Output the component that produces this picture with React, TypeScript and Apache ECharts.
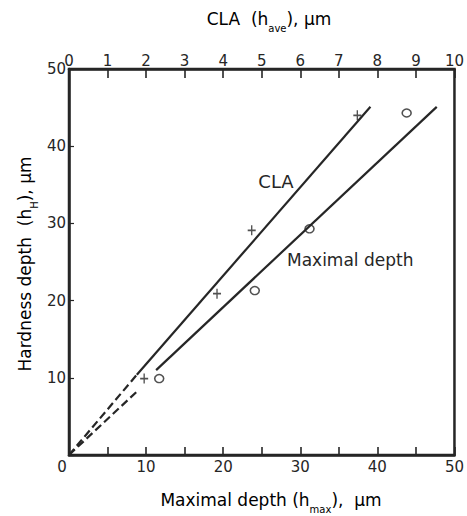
import React, { useEffect, useRef } from "react";
import * as echarts from "echarts";

// Hardness depth (μm) vs maximal depth (μm) – circles
const maxDepthPoints: [number, number][] = [
  [11.7, 9.9],
  [24.1, 21.3],
  [31.2, 29.3],
  [43.8, 44.3],
];
// Hardness depth (μm) vs CLA (μm) – crosses
const claPoints: [number, number][] = [
  [1.95, 9.9],
  [3.84, 20.9],
  [4.74, 29.1],
  [7.48, 44.0],
];
// fitted lines
const maxDepthSolid: [number, number][] = [
  [11.3, 11.0],
  [47.7, 45.1],
];
const maxDepthDashed: [number, number][] = [
  [0, 0],
  [9.0, 8.4],
];
const claSolid: [number, number][] = [
  [1.76, 10.4],
  [7.82, 45.1],
];
const claDashed: [number, number][] = [
  [0, 0],
  [1.76, 10.4],
];

const INK = "#262626";
const FONT = "DejaVu Sans";

export default function App() {
  const ref = useRef<HTMLDivElement>(null);
  useEffect(() => {
    if (!ref.current) return;
    const chart = echarts.init(ref.current, null, { renderer: "svg" });
    const sub = { fontSize: 10, fontFamily: FONT, color: INK, verticalAlign: "bottom", lineHeight: 28 };
    const main = { fontSize: 17, fontFamily: FONT, color: INK, lineHeight: 28 };
    chart.setOption({
      animation: false,
      backgroundColor: "#fff",
      textStyle: { fontFamily: FONT, color: INK },
      grid: {
        left: 69,
        right: 9,
        top: 69,
        bottom: 61,
        show: true,
        borderColor: INK,
        borderWidth: 2.5,
      },
      xAxis: [
        {
          type: "value",
          position: "bottom",
          min: 0,
          max: 50,
          interval: 5,
          splitLine: { show: false },
          axisLine: { lineStyle: { color: INK, width: 2.5 } },
          axisTick: { inside: true, length: 8, lineStyle: { color: INK, width: 1.6 } },
          axisLabel: {
            color: INK,
            fontSize: 15,
            margin: 4,
            formatter: (v: number) => (v === 0 ? "{z|0}" : v % 10 === 0 ? String(v) : ""),
            rich: { z: { fontSize: 15, color: INK, padding: [0, 14, 0, 0] } },
          },
        },
        {
          type: "value",
          position: "top",
          min: 0,
          max: 10,
          interval: 1,
          splitLine: { show: false },
          axisLine: { lineStyle: { color: INK, width: 2.5 } },
          axisTick: { inside: true, length: 9, lineStyle: { color: INK, width: 1.6 } },
          axisLabel: { color: INK, fontSize: 15, margin: 1 },
        },
      ],
      yAxis: {
        type: "value",
        min: 0,
        max: 50,
        interval: 10,
        splitLine: { show: false },
        axisLine: { lineStyle: { color: INK, width: 2.5 } },
        axisTick: { inside: true, length: 5, lineStyle: { color: INK, width: 1.2 } },
        axisLabel: {
          color: INK,
          fontSize: 15,
          margin: 3,
          formatter: (v: number) => (v === 0 ? "" : String(v)),
        },
      },
      series: [
        {
          type: "line",
          xAxisIndex: 0,
          data: maxDepthSolid,
          showSymbol: false,
          lineStyle: { color: INK, width: 2.2 },
        },
        {
          type: "line",
          xAxisIndex: 0,
          data: maxDepthDashed,
          showSymbol: false,
          lineStyle: { color: INK, width: 2.2, type: [8, 4] },
        },
        {
          type: "line",
          xAxisIndex: 1,
          data: claSolid,
          showSymbol: false,
          lineStyle: { color: INK, width: 2.2 },
        },
        {
          type: "line",
          xAxisIndex: 1,
          data: claDashed,
          showSymbol: false,
          lineStyle: { color: INK, width: 2.2, type: [8, 4] },
        },
        {
          type: "scatter",
          xAxisIndex: 0,
          data: maxDepthPoints,
          symbol: "circle",
          symbolSize: [9, 8],
          itemStyle: { color: "#fff", borderColor: INK, borderWidth: 1.5 },
        },
        {
          type: "scatter",
          xAxisIndex: 1,
          data: claPoints,
          symbol: "path://M5,0L5,10M1,5L9,5",
          symbolSize: [8, 10],
          itemStyle: { color: "none", borderColor: INK, borderWidth: 1.5 },
        },
      ],
      graphic: [
        {
          type: "text",
          x: 269,
          y: 19,
          style: {
            text: "{m|CLA  (h}{s|ave}{m|), μm}",
            rich: { m: main, s: sub },
            align: "center",
            verticalAlign: "middle",
          },
        },
        {
          type: "text",
          x: 271,
          y: 500,
          style: {
            text: "{m|Maximal depth (h}{s|max}{m|),  μm}",
            rich: { m: main, s: sub },
            align: "center",
            verticalAlign: "middle",
          },
        },
        {
          type: "text",
          x: 25,
          y: 264,
          rotation: Math.PI / 2,
          style: {
            text: "{m|Hardness depth  (h}{s|H}{m|), μm}",
            rich: { m: main, s: sub },
            align: "center",
            verticalAlign: "middle",
          },
        },
        {
          type: "text",
          x: 276,
          y: 181,
          style: {
            text: "CLA",
            font: `18px "${FONT}"`,
            fill: INK,
            align: "center",
            verticalAlign: "middle",
          },
        },
        {
          type: "text",
          x: 287,
          y: 260,
          style: {
            text: "Maximal depth",
            font: `17px "${FONT}"`,
            fill: INK,
            align: "left",
            verticalAlign: "middle",
          },
        },
      ],
    });
    return () => chart.dispose();
  }, []);
  return (
    <div
      ref={ref}
      style={{ position: "absolute", left: 0, top: 0, width: 467, height: 516 }}
    />
  );
}
